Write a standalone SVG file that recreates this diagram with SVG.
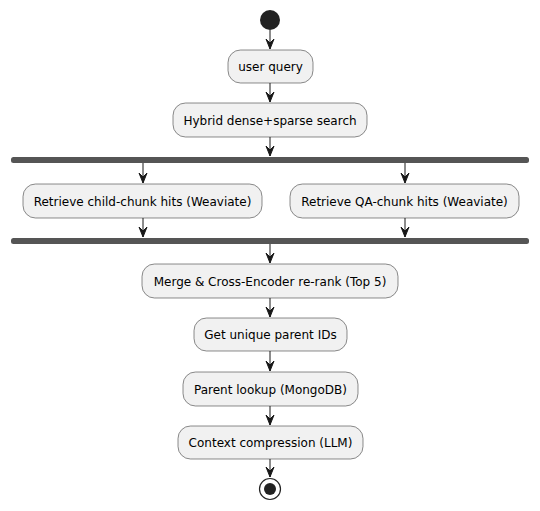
<svg xmlns="http://www.w3.org/2000/svg" width="540" height="511" viewBox="0 0 540 511">
<defs>
<style>
.box{fill:#F1F1F1;stroke:#181818;stroke-width:0.5}
.bar{fill:#555555;stroke:none}
.lbl{font-family:"DejaVu Sans",Verdana,sans-serif;font-size:12px;fill:#000000;text-anchor:middle}
.edge{stroke:#181818;stroke-width:1;fill:none}
.head{fill:#181818;stroke:#181818;stroke-width:1;stroke-linejoin:miter}
</style>
<path id="ah" d="M-4,-10 L0,0 L4,-10 L0,-6 Z"/>
</defs>
<rect width="540" height="511" fill="#FFFFFF"/>
<g id="start"><circle cx="270" cy="20" r="10" fill="#222222"/></g>
<g id="n1"><rect class="box" x="228" y="50" width="85" height="33" rx="12.5"/><text class="lbl" x="270.5" y="71">user query</text></g>
<g id="n2"><rect class="box" x="173" y="103" width="194" height="34" rx="12.5"/><text class="lbl" x="270" y="124.5">Hybrid dense+sparse search</text></g>
<g id="fork"><rect class="bar" x="11" y="157" width="518" height="6" rx="2.5"/></g>
<g id="n3"><rect class="box" x="23" y="184" width="239" height="34" rx="12.5"/><text class="lbl" x="142.5" y="205.5">Retrieve child-chunk hits (Weaviate)</text></g>
<g id="n4"><rect class="box" x="290" y="184" width="229" height="34" rx="12.5"/><text class="lbl" x="404.5" y="205.5">Retrieve QA-chunk hits (Weaviate)</text></g>
<g id="join"><rect class="bar" x="11" y="238" width="518" height="6" rx="2.5"/></g>
<g id="n5"><rect class="box" x="142" y="264" width="256" height="34" rx="12.5"/><text class="lbl" x="270" y="285.5">Merge &amp; Cross-Encoder re-rank (Top 5)</text></g>
<g id="n6"><rect class="box" x="194" y="318" width="153" height="33" rx="12.5"/><text class="lbl" x="270.5" y="339">Get unique parent IDs</text></g>
<g id="n7"><rect class="box" x="183" y="372" width="175" height="34" rx="12.5"/><text class="lbl" x="270.5" y="393.5">Parent lookup (MongoDB)</text></g>
<g id="n8"><rect class="box" x="178" y="426" width="185" height="33" rx="12.5"/><text class="lbl" x="270.5" y="447">Context compression (LLM)</text></g>
<g id="end"><circle cx="270" cy="489" r="10.5" fill="none" stroke="#222222" stroke-width="1.2"/><circle cx="270" cy="489" r="6" fill="#222222"/></g>
<g id="edges">
<line class="edge" x1="270" y1="30" x2="270" y2="49"/><use href="#ah" class="head" x="270" y="49"/>
<line class="edge" x1="270" y1="83" x2="270" y2="102"/><use href="#ah" class="head" x="270" y="102"/>
<line class="edge" x1="270" y1="137" x2="270" y2="156"/><use href="#ah" class="head" x="270" y="156"/>
<line class="edge" x1="143" y1="163" x2="143" y2="183"/><use href="#ah" class="head" x="143" y="183"/>
<line class="edge" x1="405" y1="163" x2="405" y2="183"/><use href="#ah" class="head" x="405" y="183"/>
<line class="edge" x1="143" y1="218" x2="143" y2="237"/><use href="#ah" class="head" x="143" y="237"/>
<line class="edge" x1="405" y1="218" x2="405" y2="237"/><use href="#ah" class="head" x="405" y="237"/>
<line class="edge" x1="270" y1="244" x2="270" y2="263"/><use href="#ah" class="head" x="270" y="263"/>
<line class="edge" x1="270" y1="298" x2="270" y2="317"/><use href="#ah" class="head" x="270" y="317"/>
<line class="edge" x1="270" y1="351" x2="270" y2="371"/><use href="#ah" class="head" x="270" y="371"/>
<line class="edge" x1="270" y1="406" x2="270" y2="425"/><use href="#ah" class="head" x="270" y="425"/>
<line class="edge" x1="270" y1="459" x2="270" y2="477"/><use href="#ah" class="head" x="270" y="477"/>
</g>
</svg>
